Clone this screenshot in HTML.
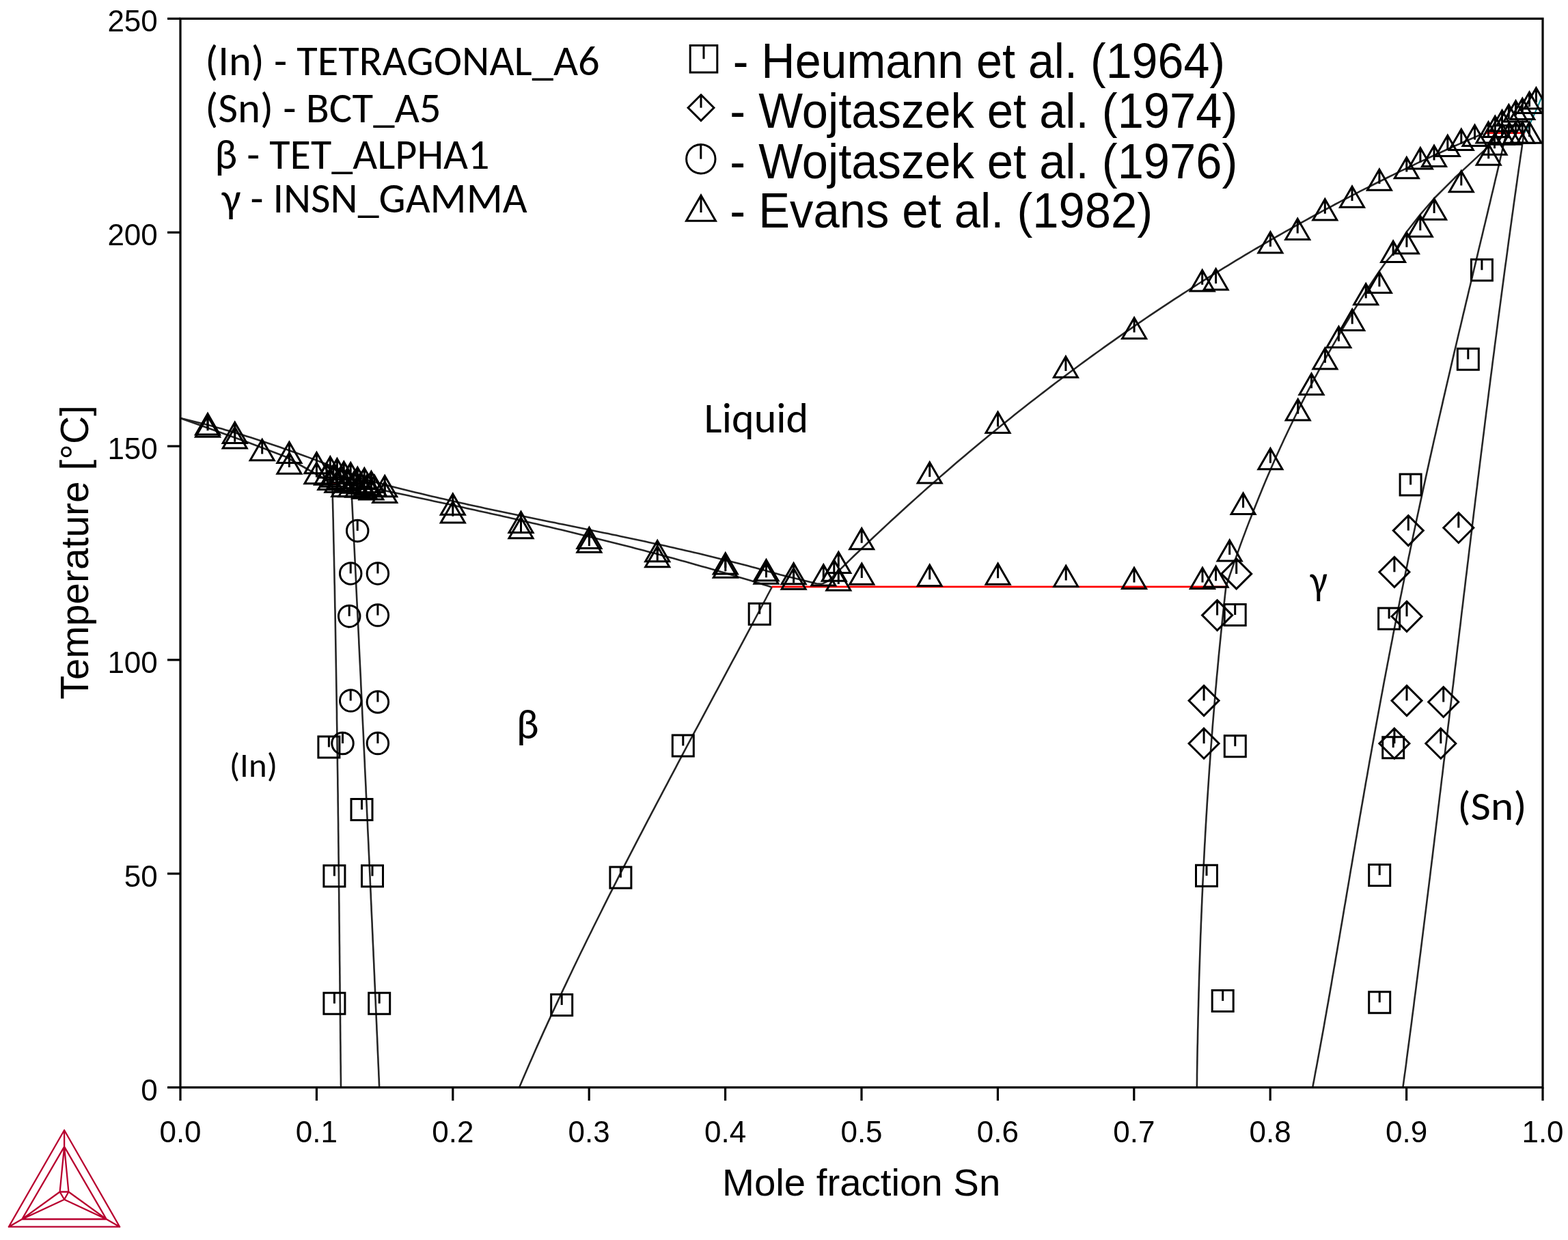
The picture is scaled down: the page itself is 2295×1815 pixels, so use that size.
<!DOCTYPE html>
<html><head><meta charset="utf-8"><title>In-Sn phase diagram</title>
<style>
html,body{margin:0;padding:0;background:#fff;overflow:hidden;}
svg{display:block;}
.tk{font-family:"Liberation Sans",Arial,sans-serif;font-size:44px;fill:#000;}
.al{font-family:"Liberation Sans",Arial,sans-serif;font-size:55px;fill:#000;}
.lg{font-family:"Liberation Sans",Arial,sans-serif;font-size:69px;fill:#000;}
.cal{font-family:Carlito,"Liberation Sans",sans-serif;font-size:60px;fill:#000;}
</style></head>
<body>
<svg width="2295" height="1815" viewBox="0 0 2295 1815">
<rect width="2295" height="1815" fill="#fff"/>
<defs><clipPath id="pc"><rect x="264" y="27.3" width="1994" height="1564.4"/></clipPath></defs>
<g id="plot" clip-path="url(#pc)">
<path d="M264.0,612.0 L270.0,613.4 L276.1,614.9 L282.1,616.4 L288.2,617.9 L294.2,619.4 L300.3,621.0 L306.3,622.6 L312.4,624.3 L318.4,625.9 L324.5,627.6 L330.5,629.4 L336.5,631.1 L342.6,632.9 L348.6,634.7 L354.7,636.6 L360.7,638.4 L366.8,640.3 L372.8,642.3 L378.9,644.2 L384.9,646.2 L391.0,648.2 L397.0,650.2 L403.0,652.2 L409.1,654.3 L415.1,656.4 L421.2,658.5 L427.2,660.7 L433.3,662.8 L439.3,665.0 L445.4,667.2 L451.4,669.4 L457.5,671.7 L463.5,673.9 L469.5,676.2 L475.6,678.5 L481.6,680.8 L487.7,683.2 L493.7,685.5 L499.8,687.9 L505.8,690.3 L511.9,692.7 L517.9,695.1 L524.0,697.6 L530.0,700.5 L536.0,702.2 L542.0,703.8 L548.0,705.4 L554.0,707.0 L560.0,708.6 L566.0,710.2 L572.0,711.7 L578.0,713.2 L584.0,714.8 L590.0,716.3 L596.0,717.7 L602.0,719.2 L608.0,720.7 L614.0,722.1 L620.0,723.6 L626.0,725.0 L632.0,726.4 L638.0,727.8 L644.0,729.2 L650.0,730.6 L656.0,732.0 L662.0,733.3 L668.0,734.7 L674.0,736.0 L680.0,737.3 L686.0,738.7 L692.0,740.0 L698.0,741.3 L704.0,742.6 L710.0,743.9 L716.0,745.2 L722.0,746.5 L728.0,747.7 L734.0,749.0 L740.0,750.3 L746.0,751.5 L752.0,752.8 L758.0,754.0 L764.0,755.3 L770.0,756.5 L776.0,757.7 L782.0,759.0 L788.0,760.2 L794.0,761.4 L800.0,762.7 L806.0,763.9 L812.0,765.1 L818.0,766.4 L824.0,767.6 L830.0,768.8 L836.0,770.0 L842.1,771.3 L848.1,772.5 L854.1,773.7 L860.1,774.9 L866.1,776.2 L872.1,777.4 L878.1,778.7 L884.1,779.9 L890.1,781.1 L896.1,782.4 L902.1,783.6 L908.1,784.9 L914.1,786.2 L920.1,787.4 L926.1,788.7 L932.1,790.0 L938.1,791.3 L944.1,792.6 L950.1,793.9 L956.1,795.2 L962.1,796.5 L968.1,797.8 L974.1,799.1 L980.1,800.5 L986.1,801.8 L992.1,803.2 L998.1,804.5 L1004.1,805.9 L1010.1,807.3 L1016.1,808.7 L1022.1,810.1 L1028.1,811.6 L1034.1,813.0 L1040.1,814.4 L1046.1,815.9 L1052.1,817.4 L1058.1,818.9 L1064.1,820.4 L1070.1,821.9 L1076.1,823.4 L1082.1,824.9 L1088.1,826.5 L1094.1,828.1 L1100.1,829.7 L1106.1,831.3 L1112.1,832.9 L1118.1,834.5 L1124.1,836.2 L1130.1,837.9 L1136.1,839.6 L1142.1,841.3 L1148.1,842.8 L1180.0,850.4 L1195.2,854.2 L1203.0,854.8" fill="none" stroke="#252525" stroke-width="2.6" stroke-linejoin="round"/>
<path d="M264.0,612.0 L361.7,647.0 L418.0,668.5 L486.5,707.5" fill="none" stroke="#252525" stroke-width="2.6" stroke-linejoin="round"/>
<path d="M514.0,707.9 L520.0,709.1 L526.1,710.4 L532.1,711.6 L538.1,712.9 L544.2,714.2 L550.2,715.4 L556.2,716.7 L562.3,718.0 L568.3,719.2 L574.4,720.5 L580.4,721.8 L586.4,723.1 L592.5,724.3 L598.5,725.6 L604.5,726.9 L610.6,728.2 L616.6,729.5 L622.6,730.8 L628.7,732.1 L634.7,733.4 L640.7,734.7 L646.8,736.0 L652.8,737.3 L658.8,738.6 L664.9,739.9 L670.9,741.2 L677.0,742.5 L683.0,743.9 L689.0,745.2 L695.1,746.5 L701.1,747.9 L707.1,749.2 L713.2,750.5 L719.2,751.9 L725.2,753.3 L731.3,754.6 L737.3,756.0 L743.3,757.3 L749.4,758.7 L755.4,760.1 L761.4,761.5 L767.5,762.9 L773.5,764.3 L779.6,765.7 L785.6,767.1 L791.6,768.5 L797.7,769.9 L803.7,771.3 L809.7,772.7 L815.8,774.2 L821.8,775.6 L827.8,777.1 L833.9,778.5 L839.9,780.0 L845.9,781.4 L852.0,782.9 L858.0,784.4 L864.0,785.9 L870.1,787.4 L876.1,788.9 L882.2,790.4 L888.2,791.9 L894.2,793.4 L900.3,794.9 L906.3,796.5 L912.3,798.0 L918.4,799.6 L924.4,801.1 L930.4,802.7 L936.5,804.2 L942.5,805.8 L948.5,807.4 L954.6,809.0 L960.6,810.6 L966.6,812.2 L972.7,813.9 L978.7,815.5 L984.8,817.1 L990.8,818.8 L996.8,820.4 L1002.9,822.1 L1008.9,823.8 L1014.9,825.5 L1021.0,827.2 L1027.0,828.9 L1033.0,830.6 L1039.1,832.3 L1045.1,834.0 L1051.1,835.8 L1057.2,837.5 L1063.2,839.3 L1069.2,841.1 L1075.3,842.9 L1081.3,844.7 L1087.4,846.5 L1093.4,848.3 L1099.4,850.1 L1105.5,851.9 L1111.5,853.8 L1117.5,855.7 L1123.6,857.5 L1129.6,859.4" fill="none" stroke="#252525" stroke-width="2.6" stroke-linejoin="round"/>
<path d="M1203.0,854.8 L1213.5,849.5 L1219.5,843.5 L1225.5,837.5 L1231.6,831.6 L1237.6,825.7 L1243.6,819.9 L1249.6,814.0 L1255.7,808.2 L1261.7,802.5 L1267.7,796.7 L1273.7,791.0 L1279.7,785.3 L1285.8,779.6 L1291.8,774.0 L1297.8,768.4 L1303.8,762.8 L1309.9,757.2 L1315.9,751.7 L1321.9,746.2 L1327.9,740.7 L1334.0,735.3 L1340.0,729.9 L1346.0,724.5 L1352.0,719.1 L1358.0,713.8 L1364.1,708.5 L1370.1,703.2 L1376.1,697.9 L1382.1,692.7 L1388.2,687.5 L1394.2,682.3 L1400.2,677.1 L1406.2,672.0 L1412.2,666.9 L1418.3,661.8 L1424.3,656.8 L1430.3,651.7 L1436.3,646.7 L1442.4,641.8 L1448.4,636.8 L1454.4,631.9 L1460.4,627.0 L1466.5,622.1 L1472.5,617.2 L1478.5,612.4 L1484.5,607.6 L1490.5,602.8 L1496.6,598.0 L1502.6,593.3 L1508.6,588.6 L1514.6,583.9 L1520.7,579.2 L1526.7,574.6 L1532.7,570.0 L1538.7,565.4 L1544.7,560.8 L1550.8,556.2 L1556.8,551.7 L1562.8,547.2 L1568.8,542.7 L1574.9,538.2 L1580.9,533.8 L1586.9,529.4 L1592.9,525.0 L1598.9,520.6 L1605.0,516.3 L1611.0,512.0 L1617.0,507.6 L1623.0,503.4 L1629.1,499.1 L1635.1,494.9 L1641.1,490.6 L1647.1,486.4 L1653.2,482.3 L1659.2,478.1 L1665.2,474.0 L1671.2,469.9 L1677.2,465.8 L1683.3,461.7 L1689.3,457.7 L1695.3,453.6 L1701.3,449.6 L1707.4,445.6 L1713.4,441.7 L1719.4,437.7 L1725.4,433.8 L1731.4,429.9 L1737.5,426.0 L1743.5,422.1 L1749.5,418.3 L1755.5,414.5 L1761.6,410.7 L1767.6,406.9 L1773.6,403.1 L1779.6,399.4 L1785.7,395.6 L1791.7,391.9 L1797.7,388.3 L1803.7,384.6 L1809.7,380.9 L1815.8,377.3 L1821.8,373.7 L1827.8,370.1 L1833.8,366.5 L1839.9,363.0 L1845.9,359.5 L1851.9,355.9 L1857.9,352.5 L1863.9,349.0 L1870.0,345.5 L1876.0,342.1 L1882.0,338.7 L1888.0,335.3 L1894.1,331.9 L1900.1,328.5 L1906.1,325.2 L1912.1,321.8 L1918.1,318.5 L1924.2,315.2 L1930.2,312.0 L1936.2,308.7 L1942.2,305.5 L1948.3,302.3 L1954.3,299.0 L1960.3,295.9 L1966.3,292.7 L1972.4,289.6 L1978.4,286.4 L1984.4,283.3 L1990.4,280.2 L1996.4,277.1 L2002.5,274.1 L2008.5,271.0 L2014.5,268.0 L2020.5,265.0 L2026.6,262.0 L2032.6,259.0 L2038.6,256.1 L2044.6,253.2 L2050.6,250.2 L2056.7,247.3 L2062.7,244.4 L2068.7,241.6 L2074.7,238.7 L2080.8,235.9 L2086.8,233.1 L2092.8,230.3 L2098.8,227.5 L2104.9,224.7 L2110.9,222.0 L2116.9,219.2 L2122.9,216.5 L2128.9,213.8 L2135.0,211.1 L2141.0,208.5 L2147.0,205.8 L2153.0,203.2 L2159.1,200.6 L2165.1,198.0 L2171.1,195.4" fill="none" stroke="#252525" stroke-width="2.6" stroke-linejoin="round"/>
<path d="M486.3,707.5 L486.5,713.5 L486.6,719.5 L486.8,725.5 L486.9,731.6 L487.1,737.6 L487.2,743.6 L487.4,749.6 L487.5,755.6 L487.7,761.6 L487.8,767.6 L487.9,773.7 L488.1,779.7 L488.2,785.7 L488.3,791.7 L488.5,797.7 L488.6,803.7 L488.7,809.8 L488.9,815.8 L489.0,821.8 L489.1,827.8 L489.3,833.8 L489.4,839.8 L489.5,845.8 L489.6,851.9 L489.8,857.9 L489.9,863.9 L490.0,869.9 L490.1,875.9 L490.2,881.9 L490.3,887.9 L490.5,894.0 L490.6,900.0 L490.7,906.0 L490.8,912.0 L490.9,918.0 L491.0,924.0 L491.1,930.1 L491.2,936.1 L491.3,942.1 L491.4,948.1 L491.5,954.1 L491.6,960.1 L491.7,966.1 L491.8,972.2 L491.9,978.2 L492.0,984.2 L492.1,990.2 L492.2,996.2 L492.3,1002.2 L492.4,1008.2 L492.5,1014.3 L492.6,1020.3 L492.7,1026.3 L492.8,1032.3 L492.9,1038.3 L493.0,1044.3 L493.0,1050.4 L493.1,1056.4 L493.2,1062.4 L493.3,1068.4 L493.4,1074.4 L493.5,1080.4 L493.5,1086.4 L493.6,1092.5 L493.7,1098.5 L493.8,1104.5 L493.9,1110.5 L493.9,1116.5 L494.0,1122.5 L494.1,1128.5 L494.2,1134.6 L494.3,1140.6 L494.3,1146.6 L494.4,1152.6 L494.5,1158.6 L494.6,1164.6 L494.6,1170.7 L494.7,1176.7 L494.8,1182.7 L494.8,1188.7 L494.9,1194.7 L495.0,1200.7 L495.1,1206.7 L495.1,1212.8 L495.2,1218.8 L495.3,1224.8 L495.3,1230.8 L495.4,1236.8 L495.5,1242.8 L495.5,1248.8 L495.6,1254.9 L495.7,1260.9 L495.7,1266.9 L495.8,1272.9 L495.9,1278.9 L495.9,1284.9 L496.0,1291.0 L496.0,1297.0 L496.1,1303.0 L496.2,1309.0 L496.2,1315.0 L496.3,1321.0 L496.4,1327.0 L496.4,1333.1 L496.5,1339.1 L496.5,1345.1 L496.6,1351.1 L496.7,1357.1 L496.7,1363.1 L496.8,1369.1 L496.8,1375.2 L496.9,1381.2 L497.0,1387.2 L497.0,1393.2 L497.1,1399.2 L497.1,1405.2 L497.2,1411.3 L497.3,1417.3 L497.3,1423.3 L497.4,1429.3 L497.4,1435.3 L497.5,1441.3 L497.5,1447.3 L497.6,1453.4 L497.7,1459.4 L497.7,1465.4 L497.8,1471.4 L497.8,1477.4 L497.9,1483.4 L498.0,1489.4 L498.0,1495.5 L498.1,1501.5 L498.1,1507.5 L498.2,1513.5 L498.2,1519.5 L498.3,1525.5 L498.4,1531.6 L498.4,1537.6 L498.5,1543.6 L498.5,1549.6 L498.6,1555.6 L498.7,1561.6 L498.7,1567.6 L498.8,1573.7 L498.9,1579.7 L498.9,1585.7 L499.0,1591.7" fill="none" stroke="#252525" stroke-width="2.6" stroke-linejoin="round"/>
<path d="M513.9,707.5 L514.2,713.5 L514.5,719.5 L514.8,725.5 L515.1,731.6 L515.4,737.6 L515.7,743.6 L516.0,749.6 L516.3,755.6 L516.6,761.6 L516.9,767.6 L517.2,773.7 L517.5,779.7 L517.8,785.7 L518.1,791.7 L518.4,797.7 L518.7,803.7 L519.0,809.8 L519.3,815.8 L519.6,821.8 L519.9,827.8 L520.2,833.8 L520.5,839.8 L520.8,845.8 L521.1,851.9 L521.3,857.9 L521.6,863.9 L521.9,869.9 L522.2,875.9 L522.5,881.9 L522.8,887.9 L523.1,894.0 L523.4,900.0 L523.7,906.0 L524.0,912.0 L524.3,918.0 L524.6,924.0 L524.9,930.1 L525.2,936.1 L525.4,942.1 L525.7,948.1 L526.0,954.1 L526.3,960.1 L526.6,966.1 L526.9,972.2 L527.2,978.2 L527.5,984.2 L527.8,990.2 L528.1,996.2 L528.3,1002.2 L528.6,1008.2 L528.9,1014.3 L529.2,1020.3 L529.5,1026.3 L529.8,1032.3 L530.1,1038.3 L530.3,1044.3 L530.6,1050.4 L530.9,1056.4 L531.2,1062.4 L531.5,1068.4 L531.8,1074.4 L532.1,1080.4 L532.3,1086.4 L532.6,1092.5 L532.9,1098.5 L533.2,1104.5 L533.5,1110.5 L533.8,1116.5 L534.0,1122.5 L534.3,1128.5 L534.6,1134.6 L534.9,1140.6 L535.2,1146.6 L535.5,1152.6 L535.7,1158.6 L536.0,1164.6 L536.3,1170.7 L536.6,1176.7 L536.9,1182.7 L537.1,1188.7 L537.4,1194.7 L537.7,1200.7 L538.0,1206.7 L538.2,1212.8 L538.5,1218.8 L538.8,1224.8 L539.1,1230.8 L539.4,1236.8 L539.6,1242.8 L539.9,1248.8 L540.2,1254.9 L540.5,1260.9 L540.7,1266.9 L541.0,1272.9 L541.3,1278.9 L541.6,1284.9 L541.8,1291.0 L542.1,1297.0 L542.4,1303.0 L542.7,1309.0 L542.9,1315.0 L543.2,1321.0 L543.5,1327.0 L543.7,1333.1 L544.0,1339.1 L544.3,1345.1 L544.6,1351.1 L544.8,1357.1 L545.1,1363.1 L545.4,1369.1 L545.6,1375.2 L545.9,1381.2 L546.2,1387.2 L546.5,1393.2 L546.7,1399.2 L547.0,1405.2 L547.3,1411.3 L547.5,1417.3 L547.8,1423.3 L548.1,1429.3 L548.3,1435.3 L548.6,1441.3 L548.9,1447.3 L549.1,1453.4 L549.4,1459.4 L549.7,1465.4 L549.9,1471.4 L550.2,1477.4 L550.5,1483.4 L550.7,1489.4 L551.0,1495.5 L551.3,1501.5 L551.5,1507.5 L551.8,1513.5 L552.1,1519.5 L552.3,1525.5 L552.6,1531.6 L552.8,1537.6 L553.1,1543.6 L553.4,1549.6 L553.6,1555.6 L553.9,1561.6 L554.2,1567.6 L554.4,1573.7 L554.7,1579.7 L554.9,1585.7 L555.2,1591.7" fill="none" stroke="#252525" stroke-width="2.6" stroke-linejoin="round"/>
<path d="M1130.0,859.0 L1126.8,865.0 L1123.6,871.0 L1120.5,877.0 L1117.3,883.0 L1114.1,889.0 L1110.9,895.0 L1107.7,901.0 L1104.5,907.0 L1101.3,913.1 L1098.1,919.1 L1094.9,925.1 L1091.7,931.1 L1088.5,937.1 L1085.3,943.1 L1082.1,949.1 L1078.9,955.1 L1075.7,961.1 L1072.4,967.1 L1069.2,973.1 L1066.0,979.1 L1062.8,985.1 L1059.6,991.1 L1056.4,997.1 L1053.2,1003.1 L1050.0,1009.1 L1046.7,1015.1 L1043.5,1021.2 L1040.3,1027.2 L1037.1,1033.2 L1033.9,1039.2 L1030.7,1045.2 L1027.5,1051.2 L1024.3,1057.2 L1021.1,1063.2 L1017.8,1069.2 L1014.6,1075.2 L1011.4,1081.2 L1008.2,1087.2 L1005.0,1093.2 L1001.8,1099.2 L998.6,1105.2 L995.5,1111.2 L992.3,1117.2 L989.1,1123.3 L985.9,1129.3 L982.7,1135.3 L979.5,1141.3 L976.4,1147.3 L973.2,1153.3 L970.0,1159.3 L966.9,1165.3 L963.7,1171.3 L960.5,1177.3 L957.4,1183.3 L954.2,1189.3 L951.1,1195.3 L947.9,1201.3 L944.8,1207.3 L941.7,1213.3 L938.6,1219.3 L935.4,1225.3 L932.3,1231.4 L929.2,1237.4 L926.1,1243.4 L923.0,1249.4 L919.9,1255.4 L916.8,1261.4 L913.7,1267.4 L910.7,1273.4 L907.6,1279.4 L904.5,1285.4 L901.5,1291.4 L898.4,1297.4 L895.4,1303.4 L892.3,1309.4 L889.3,1315.4 L886.3,1321.4 L883.3,1327.4 L880.3,1333.5 L877.3,1339.5 L874.3,1345.5 L871.3,1351.5 L868.3,1357.5 L865.4,1363.5 L862.4,1369.5 L859.4,1375.5 L856.5,1381.5 L853.6,1387.5 L850.6,1393.5 L847.7,1399.5 L844.8,1405.5 L841.9,1411.5 L839.0,1417.5 L836.2,1423.5 L833.3,1429.5 L830.4,1435.6 L827.6,1441.6 L824.7,1447.6 L821.9,1453.6 L819.1,1459.6 L816.3,1465.6 L813.5,1471.6 L810.7,1477.6 L807.9,1483.6 L805.2,1489.6 L802.4,1495.6 L799.7,1501.6 L796.9,1507.6 L794.2,1513.6 L791.5,1519.6 L788.8,1525.6 L786.1,1531.6 L783.5,1537.6 L780.8,1543.7 L778.2,1549.7 L775.5,1555.7 L772.9,1561.7 L770.3,1567.7 L767.7,1573.7 L765.1,1579.7 L762.6,1585.7 L760.0,1591.7" fill="none" stroke="#252525" stroke-width="2.6" stroke-linejoin="round"/>
<path d="M1794.4,859.0 L1793.7,865.0 L1793.0,871.0 L1792.4,877.0 L1791.7,883.0 L1791.1,889.0 L1790.4,895.0 L1789.8,901.0 L1789.2,907.0 L1788.5,913.1 L1787.9,919.1 L1787.3,925.1 L1786.7,931.1 L1786.1,937.1 L1785.5,943.1 L1784.9,949.1 L1784.3,955.1 L1783.7,961.1 L1783.2,967.1 L1782.6,973.1 L1782.1,979.1 L1781.5,985.1 L1780.9,991.1 L1780.4,997.1 L1779.9,1003.1 L1779.3,1009.1 L1778.8,1015.1 L1778.3,1021.2 L1777.8,1027.2 L1777.3,1033.2 L1776.8,1039.2 L1776.3,1045.2 L1775.8,1051.2 L1775.3,1057.2 L1774.8,1063.2 L1774.4,1069.2 L1773.9,1075.2 L1773.4,1081.2 L1773.0,1087.2 L1772.5,1093.2 L1772.1,1099.2 L1771.6,1105.2 L1771.2,1111.2 L1770.8,1117.2 L1770.3,1123.3 L1769.9,1129.3 L1769.5,1135.3 L1769.1,1141.3 L1768.7,1147.3 L1768.3,1153.3 L1767.9,1159.3 L1767.5,1165.3 L1767.1,1171.3 L1766.7,1177.3 L1766.4,1183.3 L1766.0,1189.3 L1765.6,1195.3 L1765.3,1201.3 L1764.9,1207.3 L1764.6,1213.3 L1764.2,1219.3 L1763.9,1225.3 L1763.6,1231.4 L1763.2,1237.4 L1762.9,1243.4 L1762.6,1249.4 L1762.3,1255.4 L1762.0,1261.4 L1761.7,1267.4 L1761.4,1273.4 L1761.1,1279.4 L1760.8,1285.4 L1760.5,1291.4 L1760.2,1297.4 L1760.0,1303.4 L1759.7,1309.4 L1759.4,1315.4 L1759.2,1321.4 L1758.9,1327.4 L1758.7,1333.5 L1758.4,1339.5 L1758.2,1345.5 L1757.9,1351.5 L1757.7,1357.5 L1757.5,1363.5 L1757.2,1369.5 L1757.0,1375.5 L1756.8,1381.5 L1756.6,1387.5 L1756.4,1393.5 L1756.2,1399.5 L1756.0,1405.5 L1755.8,1411.5 L1755.6,1417.5 L1755.4,1423.5 L1755.2,1429.5 L1755.0,1435.6 L1754.9,1441.6 L1754.7,1447.6 L1754.5,1453.6 L1754.4,1459.6 L1754.2,1465.6 L1754.1,1471.6 L1753.9,1477.6 L1753.8,1483.6 L1753.6,1489.6 L1753.5,1495.6 L1753.4,1501.6 L1753.2,1507.6 L1753.1,1513.6 L1753.0,1519.6 L1752.9,1525.6 L1752.7,1531.6 L1752.6,1537.6 L1752.5,1543.7 L1752.4,1549.7 L1752.3,1555.7 L1752.2,1561.7 L1752.1,1567.7 L1752.0,1573.7 L1752.0,1579.7 L1751.9,1585.7 L1751.8,1591.7" fill="none" stroke="#252525" stroke-width="2.6" stroke-linejoin="round"/>
<path d="M1794.3,859.0 L1796.3,853.0 L1798.3,847.0 L1800.3,841.0 L1802.4,835.0 L1804.5,829.0 L1806.5,823.0 L1808.7,817.0 L1810.8,810.9 L1813.0,804.9 L1815.1,798.9 L1817.3,792.9 L1819.5,786.9 L1821.8,780.9 L1824.0,774.9 L1826.3,768.9 L1828.6,762.9 L1831.0,756.9 L1833.3,750.9 L1835.7,744.9 L1838.1,738.9 L1840.5,732.9 L1842.9,726.9 L1845.4,720.9 L1847.9,714.8 L1850.4,708.8 L1852.9,702.8 L1855.5,696.8 L1858.1,690.8 L1860.7,684.8 L1863.3,678.8 L1866.0,672.8 L1868.6,666.8 L1871.4,660.8 L1874.1,654.8 L1876.9,648.8 L1879.6,642.8 L1882.5,636.8 L1885.3,630.8 L1888.2,624.7 L1891.1,618.7 L1894.0,612.7 L1896.9,606.7 L1899.9,600.7 L1902.9,594.7 L1905.9,588.7 L1909.0,582.7 L1912.1,576.7 L1915.2,570.7 L1918.4,564.7 L1921.5,558.7 L1924.7,552.7 L1928.0,546.7 L1931.2,540.7 L1934.5,534.6 L1937.9,528.6 L1941.2,522.6 L1944.6,516.6 L1948.0,510.6 L1951.5,504.6 L1955.0,498.6 L1958.5,492.6 L1962.0,486.6 L1965.6,480.6 L1969.2,474.6 L1972.9,468.6 L1976.5,462.6 L1980.2,456.6 L1984.0,450.6 L1987.7,444.6 L1991.6,438.5 L1995.4,432.5 L1999.3,426.5 L2003.2,420.5 L2007.1,414.5 L2011.1,408.5 L2015.1,402.5 L2019.2,396.5 L2028.5,383.4 L2039.2,371.1 L2058.9,339.2 L2078.9,313.8 L2099.5,290.0 L2129.2,260.3 L2141.5,248.9 L2165.2,226.9 L2176.6,216.4 L2183.5,206.0 L2188.0,194.7" fill="none" stroke="#252525" stroke-width="2.6" stroke-linejoin="round"/>
<path d="M2204.7,194.7 L2203.3,200.7 L2201.9,206.7 L2200.5,212.8 L2199.1,218.8 L2197.7,224.8 L2196.3,230.8 L2194.9,236.9 L2193.5,242.9 L2192.1,248.9 L2190.7,254.9 L2189.2,260.9 L2187.8,267.0 L2186.4,273.0 L2185.0,279.0 L2183.5,285.0 L2182.1,291.0 L2180.7,297.1 L2179.2,303.1 L2177.8,309.1 L2176.4,315.1 L2174.9,321.2 L2173.5,327.2 L2172.0,333.2 L2170.6,339.2 L2169.2,345.2 L2167.7,351.3 L2166.3,357.3 L2164.8,363.3 L2163.4,369.3 L2162.0,375.3 L2160.5,381.4 L2159.1,387.4 L2157.6,393.4 L2156.2,399.4 L2154.8,405.5 L2153.3,411.5 L2151.9,417.5 L2150.4,423.5 L2149.0,429.5 L2147.6,435.6 L2146.1,441.6 L2144.7,447.6 L2143.3,453.6 L2141.8,459.6 L2140.4,465.7 L2139.0,471.7 L2137.6,477.7 L2136.1,483.7 L2134.7,489.8 L2133.3,495.8 L2131.9,501.8 L2130.5,507.8 L2129.0,513.8 L2127.6,519.9 L2126.2,525.9 L2124.8,531.9 L2123.4,537.9 L2122.0,544.0 L2120.6,550.0 L2119.2,556.0 L2117.8,562.0 L2116.4,568.0 L2115.0,574.1 L2113.6,580.1 L2112.2,586.1 L2110.9,592.1 L2109.5,598.1 L2108.1,604.2 L2106.7,610.2 L2105.3,616.2 L2104.0,622.2 L2102.6,628.3 L2101.3,634.3 L2099.9,640.3 L2098.5,646.3 L2097.2,652.3 L2095.8,658.4 L2094.5,664.4 L2093.1,670.4 L2091.8,676.4 L2090.5,682.4 L2089.1,688.5 L2087.8,694.5 L2086.5,700.5 L2085.2,706.5 L2083.8,712.6 L2082.5,718.6 L2081.2,724.6 L2079.9,730.6 L2078.6,736.6 L2077.3,742.7 L2076.0,748.7 L2074.7,754.7 L2073.4,760.7 L2072.2,766.7 L2070.9,772.8 L2069.6,778.8 L2068.3,784.8 L2067.1,790.8 L2065.8,796.9 L2064.5,802.9 L2063.3,808.9 L2062.0,814.9 L2060.8,820.9 L2059.6,827.0 L2058.3,833.0 L2057.1,839.0 L2055.8,845.0 L2054.6,851.0 L2053.4,857.1 L2052.2,863.1 L2051.0,869.1 L2049.7,875.1 L2048.5,881.2 L2047.3,887.2 L2046.1,893.2 L2044.9,899.2 L2043.8,905.2 L2042.6,911.3 L2041.4,917.3 L2040.2,923.3 L2039.0,929.3 L2037.9,935.4 L2036.7,941.4 L2035.5,947.4 L2034.4,953.4 L2033.2,959.4 L2032.1,965.5 L2030.9,971.5 L2029.8,977.5 L2028.6,983.5 L2027.5,989.5 L2026.3,995.6 L2025.2,1001.6 L2024.1,1007.6 L2023.0,1013.6 L2021.8,1019.7 L2020.7,1025.7 L2019.6,1031.7 L2018.5,1037.7 L2017.4,1043.7 L2016.3,1049.8 L2015.2,1055.8 L2014.1,1061.8 L2013.0,1067.8 L2011.9,1073.8 L2010.8,1079.9 L2009.7,1085.9 L2008.6,1091.9 L2007.6,1097.9 L2006.5,1104.0 L2005.4,1110.0 L2004.3,1116.0 L2003.3,1122.0 L2002.2,1128.0 L2001.2,1134.1 L2000.1,1140.1 L1999.0,1146.1 L1998.0,1152.1 L1996.9,1158.1 L1995.9,1164.2 L1994.8,1170.2 L1993.8,1176.2 L1992.7,1182.2 L1991.7,1188.3 L1990.6,1194.3 L1989.6,1200.3 L1988.6,1206.3 L1987.5,1212.3 L1986.5,1218.4 L1985.5,1224.4 L1984.4,1230.4 L1983.4,1236.4 L1982.4,1242.5 L1981.3,1248.5 L1980.3,1254.5 L1979.3,1260.5 L1978.3,1266.5 L1977.2,1272.6 L1976.2,1278.6 L1975.2,1284.6 L1974.2,1290.6 L1973.2,1296.6 L1972.1,1302.7 L1971.1,1308.7 L1970.1,1314.7 L1969.1,1320.7 L1968.0,1326.8 L1967.0,1332.8 L1966.0,1338.8 L1965.0,1344.8 L1964.0,1350.8 L1962.9,1356.9 L1961.9,1362.9 L1960.9,1368.9 L1959.9,1374.9 L1958.8,1380.9 L1957.8,1387.0 L1956.8,1393.0 L1955.7,1399.0 L1954.7,1405.0 L1953.7,1411.1 L1952.6,1417.1 L1951.6,1423.1 L1950.5,1429.1 L1949.5,1435.1 L1948.5,1441.2 L1947.4,1447.2 L1946.4,1453.2 L1945.3,1459.2 L1944.3,1465.2 L1943.2,1471.3 L1942.1,1477.3 L1941.1,1483.3 L1940.0,1489.3 L1938.9,1495.4 L1937.9,1501.4 L1936.8,1507.4 L1935.7,1513.4 L1934.6,1519.4 L1933.5,1525.5 L1932.4,1531.5 L1931.3,1537.5 L1930.2,1543.5 L1929.1,1549.5 L1928.0,1555.6 L1926.9,1561.6 L1925.7,1567.6 L1924.6,1573.6 L1923.5,1579.7 L1922.3,1585.7 L1921.2,1591.7" fill="none" stroke="#252525" stroke-width="2.6" stroke-linejoin="round"/>
<path d="M2230.5,194.7 L2229.7,200.7 L2228.8,206.7 L2227.9,212.8 L2227.1,218.8 L2226.2,224.8 L2225.3,230.8 L2224.5,236.9 L2223.6,242.9 L2222.7,248.9 L2221.9,254.9 L2221.0,260.9 L2220.2,267.0 L2219.3,273.0 L2218.5,279.0 L2217.6,285.0 L2216.8,291.0 L2215.9,297.1 L2215.1,303.1 L2214.3,309.1 L2213.4,315.1 L2212.6,321.2 L2211.8,327.2 L2210.9,333.2 L2210.1,339.2 L2209.3,345.2 L2208.4,351.3 L2207.6,357.3 L2206.8,363.3 L2206.0,369.3 L2205.2,375.3 L2204.4,381.4 L2203.5,387.4 L2202.7,393.4 L2201.9,399.4 L2201.1,405.5 L2200.3,411.5 L2199.5,417.5 L2198.7,423.5 L2197.9,429.5 L2197.1,435.6 L2196.3,441.6 L2195.5,447.6 L2194.7,453.6 L2193.9,459.6 L2193.1,465.7 L2192.3,471.7 L2191.6,477.7 L2190.8,483.7 L2190.0,489.8 L2189.2,495.8 L2188.4,501.8 L2187.6,507.8 L2186.9,513.8 L2186.1,519.9 L2185.3,525.9 L2184.5,531.9 L2183.8,537.9 L2183.0,544.0 L2182.2,550.0 L2181.4,556.0 L2180.7,562.0 L2179.9,568.0 L2179.1,574.1 L2178.4,580.1 L2177.6,586.1 L2176.9,592.1 L2176.1,598.1 L2175.3,604.2 L2174.6,610.2 L2173.8,616.2 L2173.1,622.2 L2172.3,628.3 L2171.6,634.3 L2170.8,640.3 L2170.1,646.3 L2169.3,652.3 L2168.6,658.4 L2167.8,664.4 L2167.1,670.4 L2166.3,676.4 L2165.6,682.4 L2164.8,688.5 L2164.1,694.5 L2163.3,700.5 L2162.6,706.5 L2161.9,712.6 L2161.1,718.6 L2160.4,724.6 L2159.6,730.6 L2158.9,736.6 L2158.2,742.7 L2157.4,748.7 L2156.7,754.7 L2156.0,760.7 L2155.2,766.7 L2154.5,772.8 L2153.8,778.8 L2153.0,784.8 L2152.3,790.8 L2151.6,796.9 L2150.8,802.9 L2150.1,808.9 L2149.4,814.9 L2148.7,820.9 L2147.9,827.0 L2147.2,833.0 L2146.5,839.0 L2145.7,845.0 L2145.0,851.0 L2144.3,857.1 L2143.6,863.1 L2142.8,869.1 L2142.1,875.1 L2141.4,881.2 L2140.7,887.2 L2139.9,893.2 L2139.2,899.2 L2138.5,905.2 L2137.8,911.3 L2137.1,917.3 L2136.3,923.3 L2135.6,929.3 L2134.9,935.4 L2134.2,941.4 L2133.4,947.4 L2132.7,953.4 L2132.0,959.4 L2131.3,965.5 L2130.6,971.5 L2129.8,977.5 L2129.1,983.5 L2128.4,989.5 L2127.7,995.6 L2127.0,1001.6 L2126.2,1007.6 L2125.5,1013.6 L2124.8,1019.7 L2124.1,1025.7 L2123.4,1031.7 L2122.6,1037.7 L2121.9,1043.7 L2121.2,1049.8 L2120.5,1055.8 L2119.7,1061.8 L2119.0,1067.8 L2118.3,1073.8 L2117.6,1079.9 L2116.9,1085.9 L2116.1,1091.9 L2115.4,1097.9 L2114.7,1104.0 L2114.0,1110.0 L2113.2,1116.0 L2112.5,1122.0 L2111.8,1128.0 L2111.1,1134.1 L2110.3,1140.1 L2109.6,1146.1 L2108.9,1152.1 L2108.2,1158.1 L2107.4,1164.2 L2106.7,1170.2 L2106.0,1176.2 L2105.2,1182.2 L2104.5,1188.3 L2103.8,1194.3 L2103.1,1200.3 L2102.3,1206.3 L2101.6,1212.3 L2100.9,1218.4 L2100.1,1224.4 L2099.4,1230.4 L2098.7,1236.4 L2097.9,1242.5 L2097.2,1248.5 L2096.5,1254.5 L2095.7,1260.5 L2095.0,1266.5 L2094.2,1272.6 L2093.5,1278.6 L2092.8,1284.6 L2092.0,1290.6 L2091.3,1296.6 L2090.5,1302.7 L2089.8,1308.7 L2089.0,1314.7 L2088.3,1320.7 L2087.5,1326.8 L2086.8,1332.8 L2086.0,1338.8 L2085.3,1344.8 L2084.5,1350.8 L2083.8,1356.9 L2083.0,1362.9 L2082.3,1368.9 L2081.5,1374.9 L2080.8,1380.9 L2080.0,1387.0 L2079.3,1393.0 L2078.5,1399.0 L2077.7,1405.0 L2077.0,1411.1 L2076.2,1417.1 L2075.4,1423.1 L2074.7,1429.1 L2073.9,1435.1 L2073.1,1441.2 L2072.4,1447.2 L2071.6,1453.2 L2070.8,1459.2 L2070.0,1465.2 L2069.3,1471.3 L2068.5,1477.3 L2067.7,1483.3 L2066.9,1489.3 L2066.2,1495.4 L2065.4,1501.4 L2064.6,1507.4 L2063.8,1513.4 L2063.0,1519.4 L2062.2,1525.5 L2061.4,1531.5 L2060.6,1537.5 L2059.8,1543.5 L2059.0,1549.5 L2058.3,1555.6 L2057.5,1561.6 L2056.7,1567.6 L2055.8,1573.6 L2055.0,1579.7 L2054.2,1585.7 L2053.4,1591.7" fill="none" stroke="#252525" stroke-width="2.6" stroke-linejoin="round"/>
<path d="M2231.3,194.5 L2240.6,178.5 L2249.8,158.0 L2257.0,141.0" fill="none" stroke="#1f8f96" stroke-width="2.2" stroke-linejoin="round"/>
<path d="M1129.6,858.9 L1794.7,858.9" stroke="#ff0000" stroke-width="2.8"/>
<path d="M485.2,707.5 L530,707.5" stroke="#ff0000" stroke-width="2.6"/>
<path d="M2173.6,194.6 L2231.5,194.6" stroke="#ff0000" stroke-width="2.6"/>
<path d="M1096.2,883.3 h31.0 v31.0 h-31.0 Z M1111.7,883.3 V898.8" fill="none" stroke="#000" stroke-width="3.0"/>
<path d="M984.3,1076.0 h31.0 v31.0 h-31.0 Z M999.8,1076.0 V1091.5" fill="none" stroke="#000" stroke-width="3.0"/>
<path d="M892.9,1268.9 h31.0 v31.0 h-31.0 Z M908.4,1268.9 V1284.4" fill="none" stroke="#000" stroke-width="3.0"/>
<path d="M806.7,1455.5 h31.0 v31.0 h-31.0 Z M822.2,1455.5 V1471.0" fill="none" stroke="#000" stroke-width="3.0"/>
<path d="M465.9,1078.0 h31.0 v31.0 h-31.0 Z M481.4,1078.0 V1093.5" fill="none" stroke="#000" stroke-width="3.0"/>
<path d="M514.0,1169.4 h31.0 v31.0 h-31.0 Z M529.5,1169.4 V1184.9" fill="none" stroke="#000" stroke-width="3.0"/>
<path d="M473.9,1266.8 h31.0 v31.0 h-31.0 Z M489.4,1266.8 V1282.3" fill="none" stroke="#000" stroke-width="3.0"/>
<path d="M529.5,1266.8 h31.0 v31.0 h-31.0 Z M545.0,1266.8 V1282.3" fill="none" stroke="#000" stroke-width="3.0"/>
<path d="M473.9,1453.3 h31.0 v31.0 h-31.0 Z M489.4,1453.3 V1468.8" fill="none" stroke="#000" stroke-width="3.0"/>
<path d="M539.7,1453.3 h31.0 v31.0 h-31.0 Z M555.2,1453.3 V1468.8" fill="none" stroke="#000" stroke-width="3.0"/>
<path d="M1792.2,884.5 h31.0 v31.0 h-31.0 Z M1807.7,884.5 V900.0" fill="none" stroke="#000" stroke-width="3.0"/>
<path d="M1792.3,1076.8 h31.0 v31.0 h-31.0 Z M1807.8,1076.8 V1092.3" fill="none" stroke="#000" stroke-width="3.0"/>
<path d="M1750.5,1266.2 h31.0 v31.0 h-31.0 Z M1766.0,1266.2 V1281.7" fill="none" stroke="#000" stroke-width="3.0"/>
<path d="M1774.2,1449.5 h31.0 v31.0 h-31.0 Z M1789.7,1449.5 V1465.0" fill="none" stroke="#000" stroke-width="3.0"/>
<path d="M2017.6,889.9 h31.0 v31.0 h-31.0 Z M2033.1,889.9 V905.4" fill="none" stroke="#000" stroke-width="3.0"/>
<path d="M2023.7,1078.8 h31.0 v31.0 h-31.0 Z M2039.2,1078.8 V1094.3" fill="none" stroke="#000" stroke-width="3.0"/>
<path d="M2003.7,1265.5 h31.0 v31.0 h-31.0 Z M2019.2,1265.5 V1281.0" fill="none" stroke="#000" stroke-width="3.0"/>
<path d="M2003.7,1451.7 h31.0 v31.0 h-31.0 Z M2019.2,1451.7 V1467.2" fill="none" stroke="#000" stroke-width="3.0"/>
<path d="M2049.1,694.0 h31.0 v31.0 h-31.0 Z M2064.6,694.0 V709.5" fill="none" stroke="#000" stroke-width="3.0"/>
<path d="M2133.3,510.3 h31.0 v31.0 h-31.0 Z M2148.8,510.3 V525.8" fill="none" stroke="#000" stroke-width="3.0"/>
<path d="M2153.4,379.7 h31.0 v31.0 h-31.0 Z M2168.9,379.7 V395.2" fill="none" stroke="#000" stroke-width="3.0"/>
<path d="M1809.7,817.9 L1831.7,839.9 L1809.7,861.9 L1787.7,839.9 Z M1809.7,817.9 V839.9" fill="none" stroke="#000" stroke-width="3.0"/>
<path d="M1781.6,878.6 L1803.6,900.6 L1781.6,922.6 L1759.6,900.6 Z M1781.6,878.6 V900.6" fill="none" stroke="#000" stroke-width="3.0"/>
<path d="M1762.1,1003.6 L1784.1,1025.6 L1762.1,1047.6 L1740.1,1025.6 Z M1762.1,1003.6 V1025.6" fill="none" stroke="#000" stroke-width="3.0"/>
<path d="M1762.1,1066.2 L1784.1,1088.2 L1762.1,1110.2 L1740.1,1088.2 Z M1762.1,1066.2 V1088.2" fill="none" stroke="#000" stroke-width="3.0"/>
<path d="M2040.9,815.3 L2062.9,837.3 L2040.9,859.3 L2018.9,837.3 Z M2040.9,815.3 V837.3" fill="none" stroke="#000" stroke-width="3.0"/>
<path d="M2059.0,880.3 L2081.0,902.3 L2059.0,924.3 L2037.0,902.3 Z M2059.0,880.3 V902.3" fill="none" stroke="#000" stroke-width="3.0"/>
<path d="M2059.0,1003.6 L2081.0,1025.6 L2059.0,1047.6 L2037.0,1025.6 Z M2059.0,1003.6 V1025.6" fill="none" stroke="#000" stroke-width="3.0"/>
<path d="M2112.7,1005.5 L2134.7,1027.5 L2112.7,1049.5 L2090.7,1027.5 Z M2112.7,1005.5 V1027.5" fill="none" stroke="#000" stroke-width="3.0"/>
<path d="M2040.9,1066.2 L2062.9,1088.2 L2040.9,1110.2 L2018.9,1088.2 Z M2040.9,1066.2 V1088.2" fill="none" stroke="#000" stroke-width="3.0"/>
<path d="M2108.8,1066.2 L2130.8,1088.2 L2108.8,1110.2 L2086.8,1088.2 Z M2108.8,1066.2 V1088.2" fill="none" stroke="#000" stroke-width="3.0"/>
<path d="M2061.3,754.6 L2083.3,776.6 L2061.3,798.6 L2039.3,776.6 Z M2061.3,754.6 V776.6" fill="none" stroke="#000" stroke-width="3.0"/>
<path d="M2134.8,750.5 L2156.8,772.5 L2134.8,794.5 L2112.8,772.5 Z M2134.8,750.5 V772.5" fill="none" stroke="#000" stroke-width="3.0"/>
<circle cx="523.2" cy="776.9" r="15.75" fill="none" stroke="#000" stroke-width="3.0"/><path d="M523.2,761.1 V776.9" stroke="#000" stroke-width="3.0"/>
<circle cx="513.2" cy="839.4" r="15.75" fill="none" stroke="#000" stroke-width="3.0"/><path d="M513.2,823.6 V839.4" stroke="#000" stroke-width="3.0"/>
<circle cx="552.9" cy="839.4" r="15.75" fill="none" stroke="#000" stroke-width="3.0"/><path d="M552.9,823.6 V839.4" stroke="#000" stroke-width="3.0"/>
<circle cx="511.2" cy="901.9" r="15.75" fill="none" stroke="#000" stroke-width="3.0"/><path d="M511.2,886.1 V901.9" stroke="#000" stroke-width="3.0"/>
<circle cx="552.9" cy="900.6" r="15.75" fill="none" stroke="#000" stroke-width="3.0"/><path d="M552.9,884.9 V900.6" stroke="#000" stroke-width="3.0"/>
<circle cx="513.2" cy="1025.6" r="15.75" fill="none" stroke="#000" stroke-width="3.0"/><path d="M513.2,1009.8 V1025.6" stroke="#000" stroke-width="3.0"/>
<circle cx="552.9" cy="1027.5" r="15.75" fill="none" stroke="#000" stroke-width="3.0"/><path d="M552.9,1011.8 V1027.5" stroke="#000" stroke-width="3.0"/>
<circle cx="501.5" cy="1088.1" r="15.75" fill="none" stroke="#000" stroke-width="3.0"/><path d="M501.5,1072.3 V1088.1" stroke="#000" stroke-width="3.0"/>
<circle cx="552.9" cy="1088.1" r="15.75" fill="none" stroke="#000" stroke-width="3.0"/><path d="M552.9,1072.3 V1088.1" stroke="#000" stroke-width="3.0"/>
<path d="M304.0,605.6 L321.5,635.9 L286.5,635.9 Z M304.0,605.6 L304.0,626.8" fill="none" stroke="#000" stroke-width="3.0" stroke-linejoin="miter"/>
<path d="M304.0,609.0 L321.5,639.3 L286.5,639.3 Z M304.0,609.0 L304.0,630.2" fill="none" stroke="#000" stroke-width="3.0" stroke-linejoin="miter"/>
<path d="M343.7,618.2 L361.2,648.5 L326.2,648.5 Z M343.7,618.2 L343.7,639.4" fill="none" stroke="#000" stroke-width="3.0" stroke-linejoin="miter"/>
<path d="M343.7,625.6 L361.2,655.9 L326.2,655.9 Z M343.7,625.6 L343.7,646.8" fill="none" stroke="#000" stroke-width="3.0" stroke-linejoin="miter"/>
<path d="M383.7,643.4 L401.2,673.7 L366.2,673.7 Z M383.7,643.4 L383.7,664.6" fill="none" stroke="#000" stroke-width="3.0" stroke-linejoin="miter"/>
<path d="M423.4,647.2 L440.9,677.5 L405.9,677.5 Z M423.4,647.2 L423.4,668.4" fill="none" stroke="#000" stroke-width="3.0" stroke-linejoin="miter"/>
<path d="M423.4,662.9 L440.9,693.2 L405.9,693.2 Z M423.4,662.9 L423.4,684.1" fill="none" stroke="#000" stroke-width="3.0" stroke-linejoin="miter"/>
<path d="M463.4,662.4 L480.9,692.7 L445.9,692.7 Z M463.4,662.4 L463.4,683.6" fill="none" stroke="#000" stroke-width="3.0" stroke-linejoin="miter"/>
<path d="M463.4,677.4 L480.9,707.7 L445.9,707.7 Z M463.4,677.4 L463.4,698.6" fill="none" stroke="#000" stroke-width="3.0" stroke-linejoin="miter"/>
<path d="M483.3,668.7 L500.8,699.0 L465.8,699.0 Z M483.3,668.7 L483.3,689.9" fill="none" stroke="#000" stroke-width="3.0" stroke-linejoin="miter"/>
<path d="M493.4,671.5 L510.9,701.8 L475.9,701.8 Z M493.4,671.5 L493.4,692.7" fill="none" stroke="#000" stroke-width="3.0" stroke-linejoin="miter"/>
<path d="M503.3,676.0 L520.8,706.3 L485.8,706.3 Z M503.3,676.0 L503.3,697.2" fill="none" stroke="#000" stroke-width="3.0" stroke-linejoin="miter"/>
<path d="M513.2,677.4 L530.7,707.7 L495.7,707.7 Z M513.2,677.4 L513.2,698.6" fill="none" stroke="#000" stroke-width="3.0" stroke-linejoin="miter"/>
<path d="M523.3,684.3 L540.8,714.6 L505.8,714.6 Z M523.3,684.3 L523.3,705.5" fill="none" stroke="#000" stroke-width="3.0" stroke-linejoin="miter"/>
<path d="M533.3,685.4 L550.8,715.7 L515.8,715.7 Z M533.3,685.4 L533.3,706.6" fill="none" stroke="#000" stroke-width="3.0" stroke-linejoin="miter"/>
<path d="M543.4,690.2 L560.9,720.5 L525.9,720.5 Z M543.4,690.2 L543.4,711.4" fill="none" stroke="#000" stroke-width="3.0" stroke-linejoin="miter"/>
<path d="M563.2,696.5 L580.7,726.8 L545.7,726.8 Z M563.2,696.5 L563.2,717.7" fill="none" stroke="#000" stroke-width="3.0" stroke-linejoin="miter"/>
<path d="M483.3,686.3 L500.8,716.6 L465.8,716.6 Z M483.3,686.3 L483.3,707.5" fill="none" stroke="#000" stroke-width="3.0" stroke-linejoin="miter"/>
<path d="M493.4,690.0 L510.9,720.3 L475.9,720.3 Z M493.4,690.0 L493.4,711.2" fill="none" stroke="#000" stroke-width="3.0" stroke-linejoin="miter"/>
<path d="M503.3,696.3 L520.8,726.6 L485.8,726.6 Z M503.3,696.3 L503.3,717.5" fill="none" stroke="#000" stroke-width="3.0" stroke-linejoin="miter"/>
<path d="M513.3,696.5 L530.8,726.8 L495.8,726.8 Z M513.3,696.5 L513.3,717.7" fill="none" stroke="#000" stroke-width="3.0" stroke-linejoin="miter"/>
<path d="M523.3,697.0 L540.8,727.3 L505.8,727.3 Z M523.3,697.0 L523.3,718.2" fill="none" stroke="#000" stroke-width="3.0" stroke-linejoin="miter"/>
<path d="M533.3,699.0 L550.8,729.3 L515.8,729.3 Z M533.3,699.0 L533.3,720.2" fill="none" stroke="#000" stroke-width="3.0" stroke-linejoin="miter"/>
<path d="M543.4,700.8 L560.9,731.1 L525.9,731.1 Z M543.4,700.8 L543.4,722.0" fill="none" stroke="#000" stroke-width="3.0" stroke-linejoin="miter"/>
<path d="M563.2,705.2 L580.7,735.5 L545.7,735.5 Z M563.2,705.2 L563.2,726.4" fill="none" stroke="#000" stroke-width="3.0" stroke-linejoin="miter"/>
<path d="M478.0,679.0 L495.5,709.3 L460.5,709.3 Z M478.0,679.0 L478.0,700.2" fill="none" stroke="#000" stroke-width="3.0" stroke-linejoin="miter"/>
<path d="M488.0,682.0 L505.5,712.3 L470.5,712.3 Z M488.0,682.0 L488.0,703.2" fill="none" stroke="#000" stroke-width="3.0" stroke-linejoin="miter"/>
<path d="M498.0,685.0 L515.5,715.3 L480.5,715.3 Z M498.0,685.0 L498.0,706.2" fill="none" stroke="#000" stroke-width="3.0" stroke-linejoin="miter"/>
<path d="M508.0,688.0 L525.5,718.3 L490.5,718.3 Z M508.0,688.0 L508.0,709.2" fill="none" stroke="#000" stroke-width="3.0" stroke-linejoin="miter"/>
<path d="M518.0,691.0 L535.5,721.3 L500.5,721.3 Z M518.0,691.0 L518.0,712.2" fill="none" stroke="#000" stroke-width="3.0" stroke-linejoin="miter"/>
<path d="M528.0,692.0 L545.5,722.3 L510.5,722.3 Z M528.0,692.0 L528.0,713.2" fill="none" stroke="#000" stroke-width="3.0" stroke-linejoin="miter"/>
<path d="M538.0,694.0 L555.5,724.3 L520.5,724.3 Z M538.0,694.0 L538.0,715.2" fill="none" stroke="#000" stroke-width="3.0" stroke-linejoin="miter"/>
<path d="M548.0,696.0 L565.5,726.3 L530.5,726.3 Z M548.0,696.0 L548.0,717.2" fill="none" stroke="#000" stroke-width="3.0" stroke-linejoin="miter"/>
<path d="M662.8,722.9 L680.3,753.2 L645.3,753.2 Z M662.8,722.9 L662.8,744.1" fill="none" stroke="#000" stroke-width="3.0" stroke-linejoin="miter"/>
<path d="M662.8,734.6 L680.3,764.9 L645.3,764.9 Z M662.8,734.6 L662.8,755.8" fill="none" stroke="#000" stroke-width="3.0" stroke-linejoin="miter"/>
<path d="M762.5,749.3 L780.0,779.6 L745.0,779.6 Z M762.5,749.3 L762.5,770.5" fill="none" stroke="#000" stroke-width="3.0" stroke-linejoin="miter"/>
<path d="M762.5,757.5 L780.0,787.8 L745.0,787.8 Z M762.5,757.5 L762.5,778.7" fill="none" stroke="#000" stroke-width="3.0" stroke-linejoin="miter"/>
<path d="M862.4,772.2 L879.9,802.5 L844.9,802.5 Z M862.4,772.2 L862.4,793.4" fill="none" stroke="#000" stroke-width="3.0" stroke-linejoin="miter"/>
<path d="M862.4,778.0 L879.9,808.3 L844.9,808.3 Z M862.4,778.0 L862.4,799.2" fill="none" stroke="#000" stroke-width="3.0" stroke-linejoin="miter"/>
<path d="M962.2,791.5 L979.7,821.8 L944.7,821.8 Z M962.2,791.5 L962.2,812.7" fill="none" stroke="#000" stroke-width="3.0" stroke-linejoin="miter"/>
<path d="M962.2,799.5 L979.7,829.8 L944.7,829.8 Z M962.2,799.5 L962.2,820.7" fill="none" stroke="#000" stroke-width="3.0" stroke-linejoin="miter"/>
<path d="M1061.8,809.7 L1079.3,840.0 L1044.3,840.0 Z M1061.8,809.7 L1061.8,830.9" fill="none" stroke="#000" stroke-width="3.0" stroke-linejoin="miter"/>
<path d="M1061.8,815.0 L1079.3,845.3 L1044.3,845.3 Z M1061.8,815.0 L1061.8,836.2" fill="none" stroke="#000" stroke-width="3.0" stroke-linejoin="miter"/>
<path d="M1121.5,819.5 L1139.0,849.8 L1104.0,849.8 Z M1121.5,819.5 L1121.5,840.7" fill="none" stroke="#000" stroke-width="3.0" stroke-linejoin="miter"/>
<path d="M1121.5,824.0 L1139.0,854.3 L1104.0,854.3 Z M1121.5,824.0 L1121.5,845.2" fill="none" stroke="#000" stroke-width="3.0" stroke-linejoin="miter"/>
<path d="M1161.6,824.5 L1179.1,854.8 L1144.1,854.8 Z M1161.6,824.5 L1161.6,845.7" fill="none" stroke="#000" stroke-width="3.0" stroke-linejoin="miter"/>
<path d="M1161.6,832.0 L1179.1,862.3 L1144.1,862.3 Z M1161.6,832.0 L1161.6,853.2" fill="none" stroke="#000" stroke-width="3.0" stroke-linejoin="miter"/>
<path d="M1205.3,826.8 L1222.8,857.1 L1187.8,857.1 Z M1205.3,826.8 L1205.3,848.0" fill="none" stroke="#000" stroke-width="3.0" stroke-linejoin="miter"/>
<path d="M1227.3,808.3 L1244.8,838.6 L1209.8,838.6 Z M1227.3,808.3 L1227.3,829.5" fill="none" stroke="#000" stroke-width="3.0" stroke-linejoin="miter"/>
<path d="M1220.8,819.9 L1238.3,850.2 L1203.3,850.2 Z M1220.8,819.9 L1220.8,841.1" fill="none" stroke="#000" stroke-width="3.0" stroke-linejoin="miter"/>
<path d="M1227.3,833.7 L1244.8,864.0 L1209.8,864.0 Z M1227.3,833.7 L1227.3,854.9" fill="none" stroke="#000" stroke-width="3.0" stroke-linejoin="miter"/>
<path d="M1261.3,824.9 L1278.8,855.2 L1243.8,855.2 Z M1261.3,824.9 L1261.3,846.1" fill="none" stroke="#000" stroke-width="3.0" stroke-linejoin="miter"/>
<path d="M1261.2,773.5 L1278.7,803.8 L1243.7,803.8 Z M1261.2,773.5 L1261.2,794.7" fill="none" stroke="#000" stroke-width="3.0" stroke-linejoin="miter"/>
<path d="M1360.7,827.1 L1378.2,857.4 L1343.2,857.4 Z M1360.7,827.1 L1360.7,848.3" fill="none" stroke="#000" stroke-width="3.0" stroke-linejoin="miter"/>
<path d="M1360.7,676.8 L1378.2,707.1 L1343.2,707.1 Z M1360.7,676.8 L1360.7,698.0" fill="none" stroke="#000" stroke-width="3.0" stroke-linejoin="miter"/>
<path d="M1460.6,825.0 L1478.1,855.3 L1443.1,855.3 Z M1460.6,825.0 L1460.6,846.2" fill="none" stroke="#000" stroke-width="3.0" stroke-linejoin="miter"/>
<path d="M1460.5,603.2 L1478.0,633.5 L1443.0,633.5 Z M1460.5,603.2 L1460.5,624.4" fill="none" stroke="#000" stroke-width="3.0" stroke-linejoin="miter"/>
<path d="M1560.2,828.3 L1577.7,858.6 L1542.7,858.6 Z M1560.2,828.3 L1560.2,849.5" fill="none" stroke="#000" stroke-width="3.0" stroke-linejoin="miter"/>
<path d="M1559.9,521.9 L1577.4,552.2 L1542.4,552.2 Z M1559.9,521.9 L1559.9,543.1" fill="none" stroke="#000" stroke-width="3.0" stroke-linejoin="miter"/>
<path d="M1660.0,831.3 L1677.5,861.6 L1642.5,861.6 Z M1660.0,831.3 L1660.0,852.5" fill="none" stroke="#000" stroke-width="3.0" stroke-linejoin="miter"/>
<path d="M1660.1,465.3 L1677.6,495.6 L1642.6,495.6 Z M1660.1,465.3 L1660.1,486.5" fill="none" stroke="#000" stroke-width="3.0" stroke-linejoin="miter"/>
<path d="M1760.0,831.3 L1777.5,861.6 L1742.5,861.6 Z M1760.0,831.3 L1760.0,852.5" fill="none" stroke="#000" stroke-width="3.0" stroke-linejoin="miter"/>
<path d="M1759.7,395.6 L1777.2,425.9 L1742.2,425.9 Z M1759.7,395.6 L1759.7,416.8" fill="none" stroke="#000" stroke-width="3.0" stroke-linejoin="miter"/>
<path d="M1779.6,829.0 L1797.1,859.3 L1762.1,859.3 Z M1779.6,829.0 L1779.6,850.2" fill="none" stroke="#000" stroke-width="3.0" stroke-linejoin="miter"/>
<path d="M1779.6,393.8 L1797.1,424.1 L1762.1,424.1 Z M1779.6,393.8 L1779.6,415.0" fill="none" stroke="#000" stroke-width="3.0" stroke-linejoin="miter"/>
<path d="M1799.7,790.7 L1817.2,821.0 L1782.2,821.0 Z M1799.7,790.7 L1799.7,811.9" fill="none" stroke="#000" stroke-width="3.0" stroke-linejoin="miter"/>
<path d="M1819.6,722.1 L1837.1,752.4 L1802.1,752.4 Z M1819.6,722.1 L1819.6,743.3" fill="none" stroke="#000" stroke-width="3.0" stroke-linejoin="miter"/>
<path d="M1859.4,656.5 L1876.9,686.8 L1841.9,686.8 Z M1859.4,656.5 L1859.4,677.7" fill="none" stroke="#000" stroke-width="3.0" stroke-linejoin="miter"/>
<path d="M1859.4,339.8 L1876.9,370.1 L1841.9,370.1 Z M1859.4,339.8 L1859.4,361.0" fill="none" stroke="#000" stroke-width="3.0" stroke-linejoin="miter"/>
<path d="M1899.7,584.6 L1917.2,614.9 L1882.2,614.9 Z M1899.7,584.6 L1899.7,605.8" fill="none" stroke="#000" stroke-width="3.0" stroke-linejoin="miter"/>
<path d="M1899.2,320.2 L1916.7,350.5 L1881.7,350.5 Z M1899.2,320.2 L1899.2,341.4" fill="none" stroke="#000" stroke-width="3.0" stroke-linejoin="miter"/>
<path d="M1919.5,547.1 L1937.0,577.4 L1902.0,577.4 Z M1919.5,547.1 L1919.5,568.3" fill="none" stroke="#000" stroke-width="3.0" stroke-linejoin="miter"/>
<path d="M1939.4,509.8 L1956.9,540.1 L1921.9,540.1 Z M1939.4,509.8 L1939.4,531.0" fill="none" stroke="#000" stroke-width="3.0" stroke-linejoin="miter"/>
<path d="M1939.3,291.6 L1956.8,321.9 L1921.8,321.9 Z M1939.3,291.6 L1939.3,312.8" fill="none" stroke="#000" stroke-width="3.0" stroke-linejoin="miter"/>
<path d="M1959.4,478.3 L1976.9,508.6 L1941.9,508.6 Z M1959.4,478.3 L1959.4,499.5" fill="none" stroke="#000" stroke-width="3.0" stroke-linejoin="miter"/>
<path d="M1979.2,453.1 L1996.7,483.4 L1961.7,483.4 Z M1979.2,453.1 L1979.2,474.3" fill="none" stroke="#000" stroke-width="3.0" stroke-linejoin="miter"/>
<path d="M1979.0,272.9 L1996.5,303.2 L1961.5,303.2 Z M1979.0,272.9 L1979.0,294.1" fill="none" stroke="#000" stroke-width="3.0" stroke-linejoin="miter"/>
<path d="M1999.2,415.4 L2016.7,445.7 L1981.7,445.7 Z M1999.2,415.4 L1999.2,436.6" fill="none" stroke="#000" stroke-width="3.0" stroke-linejoin="miter"/>
<path d="M2018.9,398.3 L2036.4,428.6 L2001.4,428.6 Z M2018.9,398.3 L2018.9,419.5" fill="none" stroke="#000" stroke-width="3.0" stroke-linejoin="miter"/>
<path d="M2018.9,247.9 L2036.4,278.2 L2001.4,278.2 Z M2018.9,247.9 L2018.9,269.1" fill="none" stroke="#000" stroke-width="3.0" stroke-linejoin="miter"/>
<path d="M2039.1,353.1 L2056.6,383.4 L2021.6,383.4 Z M2039.1,353.1 L2039.1,374.3" fill="none" stroke="#000" stroke-width="3.0" stroke-linejoin="miter"/>
<path d="M2058.9,340.6 L2076.4,370.9 L2041.4,370.9 Z M2058.9,340.6 L2058.9,361.8" fill="none" stroke="#000" stroke-width="3.0" stroke-linejoin="miter"/>
<path d="M2058.8,230.4 L2076.3,260.7 L2041.3,260.7 Z M2058.8,230.4 L2058.8,251.6" fill="none" stroke="#000" stroke-width="3.0" stroke-linejoin="miter"/>
<path d="M2078.8,316.0 L2096.3,346.3 L2061.3,346.3 Z M2078.8,316.0 L2078.8,337.2" fill="none" stroke="#000" stroke-width="3.0" stroke-linejoin="miter"/>
<path d="M2078.9,216.6 L2096.4,246.9 L2061.4,246.9 Z M2078.9,216.6 L2078.9,237.8" fill="none" stroke="#000" stroke-width="3.0" stroke-linejoin="miter"/>
<path d="M2099.1,290.9 L2116.6,321.2 L2081.6,321.2 Z M2099.1,290.9 L2099.1,312.1" fill="none" stroke="#000" stroke-width="3.0" stroke-linejoin="miter"/>
<path d="M2099.0,213.3 L2116.5,243.6 L2081.5,243.6 Z M2099.0,213.3 L2099.0,234.5" fill="none" stroke="#000" stroke-width="3.0" stroke-linejoin="miter"/>
<path d="M2118.8,198.2 L2136.3,228.5 L2101.3,228.5 Z M2118.8,198.2 L2118.8,219.4" fill="none" stroke="#000" stroke-width="3.0" stroke-linejoin="miter"/>
<path d="M2138.8,250.4 L2156.3,280.7 L2121.3,280.7 Z M2138.8,250.4 L2138.8,271.6" fill="none" stroke="#000" stroke-width="3.0" stroke-linejoin="miter"/>
<path d="M2138.8,189.2 L2156.3,219.5 L2121.3,219.5 Z M2138.8,189.2 L2138.8,210.4" fill="none" stroke="#000" stroke-width="3.0" stroke-linejoin="miter"/>
<path d="M2158.5,183.2 L2176.0,213.5 L2141.0,213.5 Z M2158.5,183.2 L2158.5,204.4" fill="none" stroke="#000" stroke-width="3.0" stroke-linejoin="miter"/>
<path d="M2178.5,178.7 L2196.0,209.0 L2161.0,209.0 Z M2178.5,178.7 L2178.5,199.9" fill="none" stroke="#000" stroke-width="3.0" stroke-linejoin="miter"/>
<path d="M2178.7,211.0 L2196.2,241.3 L2161.2,241.3 Z M2178.7,211.0 L2178.7,232.2" fill="none" stroke="#000" stroke-width="3.0" stroke-linejoin="miter"/>
<path d="M2188.3,170.3 L2205.8,200.6 L2170.8,200.6 Z M2188.3,170.3 L2188.3,191.5" fill="none" stroke="#000" stroke-width="3.0" stroke-linejoin="miter"/>
<path d="M2187.5,196.0 L2205.0,226.3 L2170.0,226.3 Z M2187.5,196.0 L2187.5,217.2" fill="none" stroke="#000" stroke-width="3.0" stroke-linejoin="miter"/>
<path d="M2198.5,161.8 L2216.0,192.1 L2181.0,192.1 Z M2198.5,161.8 L2198.5,183.0" fill="none" stroke="#000" stroke-width="3.0" stroke-linejoin="miter"/>
<path d="M2198.5,181.0 L2216.0,211.3 L2181.0,211.3 Z M2198.5,181.0 L2198.5,202.2" fill="none" stroke="#000" stroke-width="3.0" stroke-linejoin="miter"/>
<path d="M2208.3,153.4 L2225.8,183.7 L2190.8,183.7 Z M2208.3,153.4 L2208.3,174.6" fill="none" stroke="#000" stroke-width="3.0" stroke-linejoin="miter"/>
<path d="M2208.3,181.0 L2225.8,211.3 L2190.8,211.3 Z M2208.3,181.0 L2208.3,202.2" fill="none" stroke="#000" stroke-width="3.0" stroke-linejoin="miter"/>
<path d="M2218.5,147.8 L2236.0,178.1 L2201.0,178.1 Z M2218.5,147.8 L2218.5,169.0" fill="none" stroke="#000" stroke-width="3.0" stroke-linejoin="miter"/>
<path d="M2218.5,179.0 L2236.0,209.3 L2201.0,209.3 Z M2218.5,179.0 L2218.5,200.2" fill="none" stroke="#000" stroke-width="3.0" stroke-linejoin="miter"/>
<path d="M2228.3,144.3 L2245.8,174.6 L2210.8,174.6 Z M2228.3,144.3 L2228.3,165.5" fill="none" stroke="#000" stroke-width="3.0" stroke-linejoin="miter"/>
<path d="M2228.3,179.0 L2245.8,209.3 L2210.8,209.3 Z M2228.3,179.0 L2228.3,200.2" fill="none" stroke="#000" stroke-width="3.0" stroke-linejoin="miter"/>
<path d="M2238.5,135.1 L2256.0,165.4 L2221.0,165.4 Z M2238.5,135.1 L2238.5,156.3" fill="none" stroke="#000" stroke-width="3.0" stroke-linejoin="miter"/>
<path d="M2238.5,179.0 L2256.0,209.3 L2221.0,209.3 Z M2238.5,179.0 L2238.5,200.2" fill="none" stroke="#000" stroke-width="3.0" stroke-linejoin="miter"/>
<path d="M2248.4,128.8 L2265.9,159.1 L2230.9,159.1 Z M2248.4,128.8 L2248.4,150.0" fill="none" stroke="#000" stroke-width="3.0" stroke-linejoin="miter"/>
</g>
<g id="axes">
<rect x="264.0" y="27.3" width="1994.0" height="1564.4" fill="none" stroke="#000" stroke-width="3.2"/>
<path d="M245,1591.7 H264.0" stroke="#000" stroke-width="3.2"/>
<text x="230.8" y="1610.7" text-anchor="end" class="tk">0</text>
<path d="M245,1278.8 H264.0" stroke="#000" stroke-width="3.2"/>
<text x="230.8" y="1297.8" text-anchor="end" class="tk">50</text>
<path d="M245,965.9 H264.0" stroke="#000" stroke-width="3.2"/>
<text x="230.8" y="984.9" text-anchor="end" class="tk">100</text>
<path d="M245,653.1 H264.0" stroke="#000" stroke-width="3.2"/>
<text x="230.8" y="672.1" text-anchor="end" class="tk">150</text>
<path d="M245,340.2 H264.0" stroke="#000" stroke-width="3.2"/>
<text x="230.8" y="359.2" text-anchor="end" class="tk">200</text>
<path d="M245,27.3 H264.0" stroke="#000" stroke-width="3.2"/>
<text x="230.8" y="46.3" text-anchor="end" class="tk">250</text>
<path d="M264.0,1591.7 V1611" stroke="#000" stroke-width="3.2"/>
<text x="264.0" y="1672" text-anchor="middle" class="tk">0.0</text>
<path d="M463.4,1591.7 V1611" stroke="#000" stroke-width="3.2"/>
<text x="463.4" y="1672" text-anchor="middle" class="tk">0.1</text>
<path d="M662.8,1591.7 V1611" stroke="#000" stroke-width="3.2"/>
<text x="662.8" y="1672" text-anchor="middle" class="tk">0.2</text>
<path d="M862.2,1591.7 V1611" stroke="#000" stroke-width="3.2"/>
<text x="862.2" y="1672" text-anchor="middle" class="tk">0.3</text>
<path d="M1061.6,1591.7 V1611" stroke="#000" stroke-width="3.2"/>
<text x="1061.6" y="1672" text-anchor="middle" class="tk">0.4</text>
<path d="M1261.0,1591.7 V1611" stroke="#000" stroke-width="3.2"/>
<text x="1261.0" y="1672" text-anchor="middle" class="tk">0.5</text>
<path d="M1460.4,1591.7 V1611" stroke="#000" stroke-width="3.2"/>
<text x="1460.4" y="1672" text-anchor="middle" class="tk">0.6</text>
<path d="M1659.8,1591.7 V1611" stroke="#000" stroke-width="3.2"/>
<text x="1659.8" y="1672" text-anchor="middle" class="tk">0.7</text>
<path d="M1859.2,1591.7 V1611" stroke="#000" stroke-width="3.2"/>
<text x="1859.2" y="1672" text-anchor="middle" class="tk">0.8</text>
<path d="M2058.6,1591.7 V1611" stroke="#000" stroke-width="3.2"/>
<text x="2058.6" y="1672" text-anchor="middle" class="tk">0.9</text>
<path d="M2258.0,1591.7 V1611" stroke="#000" stroke-width="3.2"/>
<text x="2258.0" y="1672" text-anchor="middle" class="tk">1.0</text>
</g>
<g id="legend">
<path d="M1010.2,66.5 h39.6 v39.6 h-39.6 Z M1030,66.5 V86.3" fill="none" stroke="#000" stroke-width="3"/>
<path d="M1026,138.79999999999998 L1044.9,157.7 L1026,176.6 L1007.1,157.7 Z M1026,138.79999999999998 V157.7" fill="none" stroke="#000" stroke-width="3"/>
<circle cx="1025.8" cy="232.7" r="21.2" fill="none" stroke="#000" stroke-width="3"/><path d="M1025.8,211.5 V232.7" stroke="#000" stroke-width="3"/>
<path d="M1026,286 L1047.45,323.2 L1004.55,323.2 Z M1026,286 V311" fill="none" stroke="#000" stroke-width="3"/>
</g>
<g id="texts">
<text x="300.3" y="110.3" textLength="577.5" lengthAdjust="spacingAndGlyphs" style="font-family:Carlito,&quot;Liberation Sans&quot;,sans-serif;font-size:62px">(In) - TETRAGONAL_A6</text>
<text x="300.2" y="178.5" textLength="345.4" lengthAdjust="spacingAndGlyphs" style="font-family:Carlito,&quot;Liberation Sans&quot;,sans-serif;font-size:62px">(Sn) - BCT_A5</text>
<text x="314.2" y="247.3" textLength="402.4" lengthAdjust="spacingAndGlyphs" style="font-family:Carlito,&quot;Liberation Sans&quot;,sans-serif;font-size:62px">β - TET_ALPHA1</text>
<text x="324.7" y="311.3" textLength="446.9" lengthAdjust="spacingAndGlyphs" style="font-family:Carlito,&quot;Liberation Sans&quot;,sans-serif;font-size:62px">γ - INSN_GAMMA</text>
<text transform="translate(1072.7,114.4) scale(1,1.045)" x="0" y="0" textLength="720.4" lengthAdjust="spacingAndGlyphs" style="font-family:&quot;Liberation Sans&quot;,Arial,sans-serif;font-size:68.5px">- Heumann et al. (1964)</text>
<text transform="translate(1068.3,186.7) scale(1,1.045)" x="0" y="0" textLength="743.0" lengthAdjust="spacingAndGlyphs" style="font-family:&quot;Liberation Sans&quot;,Arial,sans-serif;font-size:68.5px">- Wojtaszek et al. (1974)</text>
<text transform="translate(1068.3,261.1) scale(1,1.045)" x="0" y="0" textLength="743.0" lengthAdjust="spacingAndGlyphs" style="font-family:&quot;Liberation Sans&quot;,Arial,sans-serif;font-size:68.5px">- Wojtaszek et al. (1976)</text>
<text transform="translate(1068.3,333.3) scale(1,1.045)" x="0" y="0" textLength="618.8" lengthAdjust="spacingAndGlyphs" style="font-family:&quot;Liberation Sans&quot;,Arial,sans-serif;font-size:68.5px">- Evans et al. (1982)</text>
<text x="1030.6" y="633.0" textLength="152.6" lengthAdjust="spacingAndGlyphs" style="font-family:Carlito,&quot;Liberation Sans&quot;,sans-serif;font-size:62px">Liquid</text>
<text x="335.7" y="1136.8" textLength="70.4" lengthAdjust="spacingAndGlyphs" style="font-family:Carlito,&quot;Liberation Sans&quot;,sans-serif;font-size:49px">(In)</text>
<text x="2133.2" y="1200.0" textLength="101.5" lengthAdjust="spacingAndGlyphs" style="font-family:Carlito,&quot;Liberation Sans&quot;,sans-serif;font-size:60px">(Sn)</text>
<text x="755.7" y="1081.0" textLength="32.9" lengthAdjust="spacingAndGlyphs" style="font-family:Carlito,&quot;Liberation Sans&quot;,sans-serif;font-size:61px">β</text>
<text x="1917.7" y="869.5" textLength="25.1" lengthAdjust="spacingAndGlyphs" style="font-family:Carlito,&quot;Liberation Sans&quot;,sans-serif;font-size:61px">γ</text>
<text x="1057.0" y="1749.7" textLength="407.3" lengthAdjust="spacingAndGlyphs" style="font-family:&quot;Liberation Sans&quot;,Arial,sans-serif;font-size:56px">Mole fraction Sn</text>
<text transform="translate(128.6,1023.8) rotate(-90)" x="0" y="0" textLength="430.7" lengthAdjust="spacingAndGlyphs" style="font-family:&quot;Liberation Sans&quot;,Arial,sans-serif;font-size:57px">Temperature [°C]</text>
</g>
<g id="logo">
<path d="M94.1,1654.3 L12.8,1795.7 M12.8,1795.7 L175.2,1795.7 M175.2,1795.7 L94.1,1654.3 M94.1,1678.4 L32.3,1784.5 M32.3,1784.5 L155.7,1784.5 M155.7,1784.5 L94.1,1678.4 M94.1,1654.3 L94.1,1678.4 M12.8,1795.7 L32.3,1784.5 M175.2,1795.7 L155.7,1784.5 M94.1,1678.4 L87.6,1744.5 M94.1,1678.4 L100.4,1744.5 M87.6,1744.5 L100.4,1744.5 M87.6,1744.5 L94.1,1755.8 M100.4,1744.5 L94.1,1755.8 M32.3,1784.5 L87.6,1744.5 M32.3,1784.5 L94.1,1755.8 M155.7,1784.5 L100.4,1744.5 M155.7,1784.5 L94.1,1755.8" fill="none" stroke="#b8002f" stroke-width="2.3" stroke-linecap="round" stroke-linejoin="round"/>
</g>
</svg>
</body></html>
